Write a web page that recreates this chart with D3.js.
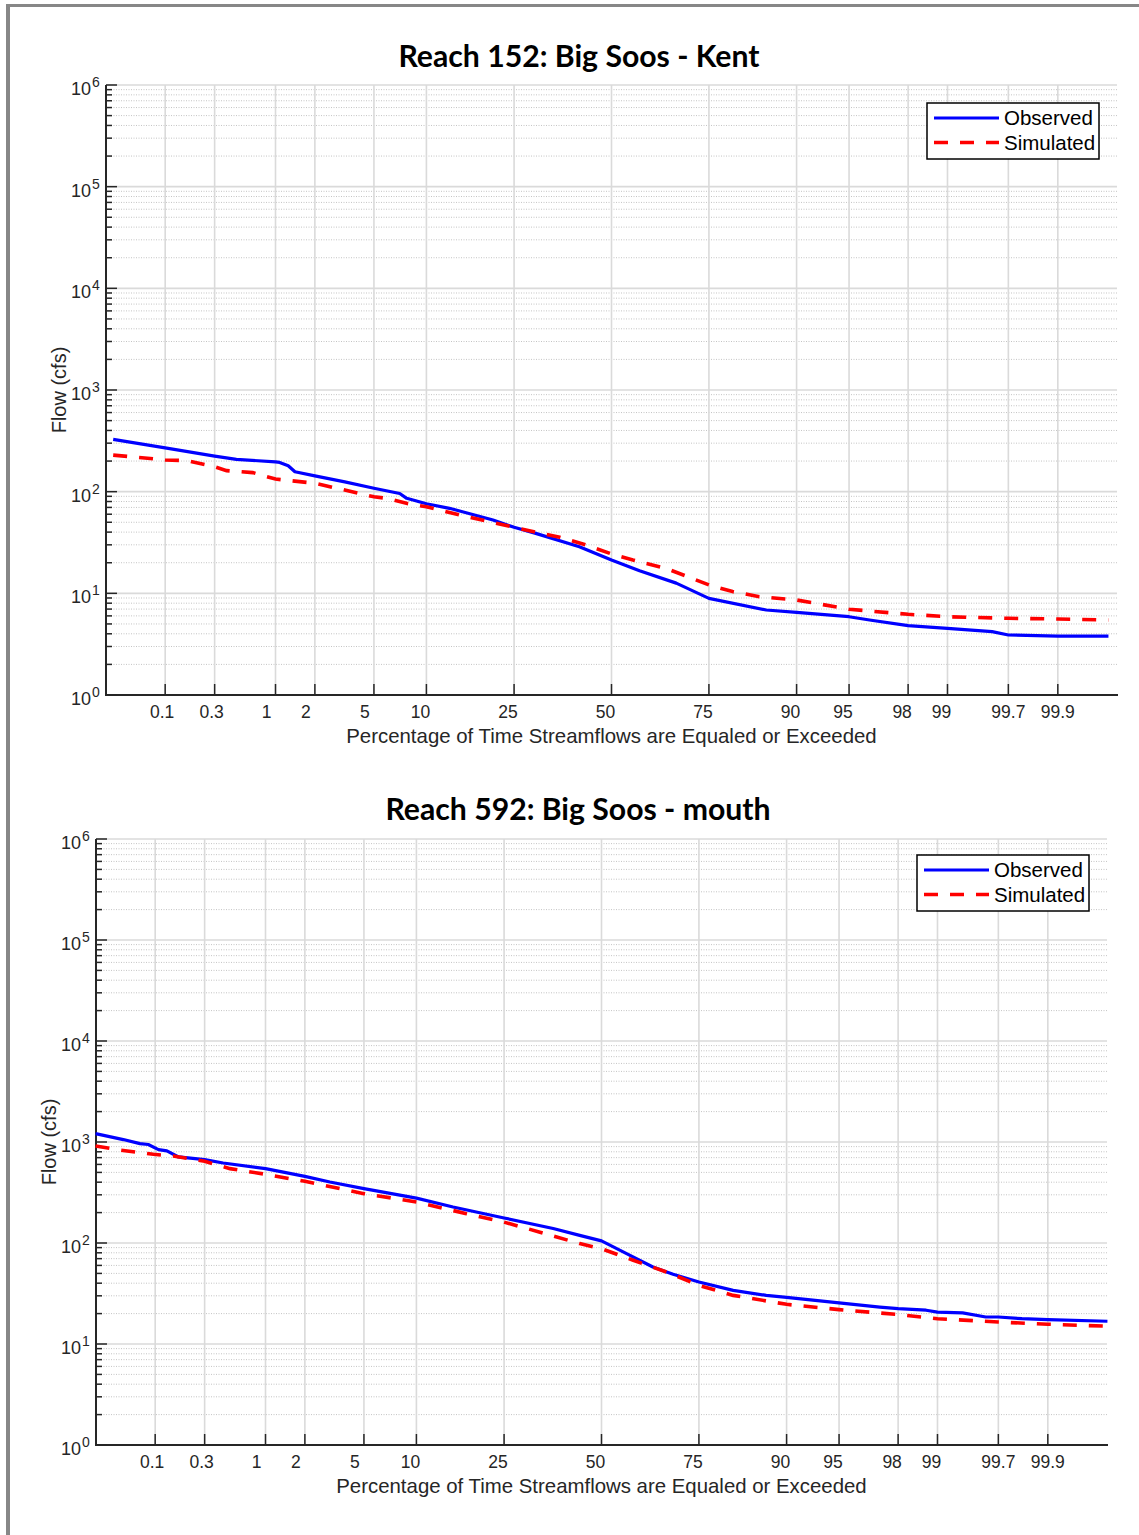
<!DOCTYPE html>
<html>
<head>
<meta charset="utf-8">
<script src="https://cdn.jsdelivr.net/npm/d3@7"></script>
<style>
  html, body { margin: 0; padding: 0; background: #fff; }
  svg { display: block; }
</style>
</head>
<body>
<svg id="chart" width="1139" height="1535"></svg>
<script>
// Flow-duration curves on a normal-probability x axis and a log flow axis.

const xTicks = [0.1, 0.3, 1, 2, 5, 10, 25, 50, 75, 90, 95, 98, 99, 99.7, 99.9];
const xTickLabels = ["0.1", "0.3", "1", "2", "5", "10", "25", "50", "75", "90", "95", "98", "99", "99.7", "99.9"];
const yDecades = [0, 1, 2, 3, 4, 5, 6];
const seriesNames = ["Observed", "Simulated"];

// Reach 152: Big Soos - Kent
const kentObsPct = [0.028, 0.1, 0.3, 0.47, 1, 1.08, 1.26, 1.42, 2, 3.24, 5, 7.13, 7.81, 10, 13.1, 20.6, 25, 30, 41.2, 50, 57.7, 67.3, 75, 85.8, 90, 95, 96.3, 98, 99, 99.58, 99.7, 99.9, 99.971];
const kentObsFlow = [327, 270, 224, 208, 196, 194, 180, 157, 143, 125, 108, 96, 86, 76, 68.6, 52.6, 44.6, 38.9, 28.7, 21.3, 16.7, 12.6, 8.93, 6.86, 6.5, 5.89, 5.47, 4.81, 4.53, 4.2, 3.89, 3.8, 3.8];
const kentSimPct = [0.028, 0.1, 0.164, 0.3, 0.385, 0.65, 1, 2, 2.56, 5, 5.96, 7.78, 10, 14.7, 25, 36, 43, 50, 55.9, 64.7, 75, 79.9, 84.7, 90, 95, 98, 99, 99.7, 99.9, 99.971];
const kentSimFlow = [229, 205, 202, 176, 161, 154, 133, 121, 112, 89, 86, 76.8, 71, 58.9, 44.6, 35.6, 29.9, 24.4, 21.3, 17.6, 12.1, 10.4, 9.27, 8.6, 6.97, 6.22, 5.89, 5.68, 5.59, 5.47];

// Reach 592: Big Soos - mouth
const mouthObsPct = [0.023, 0.0465, 0.0697, 0.085, 0.108, 0.131, 0.17, 0.3, 0.44, 1, 2, 3.0, 5, 10, 15.2, 25, 36.9, 44, 50, 56.9, 63.9, 69, 75, 81.9, 87.3, 90, 95, 97.3, 98, 98.77, 99, 99.38, 99.61, 99.7, 99.82, 99.9, 99.977];
const mouthObsFlow = [1211, 1057, 964, 944, 841, 817, 711, 670, 620, 545, 457, 402, 345, 278, 227, 177, 139, 119, 105, 78.5, 57.8, 49, 41.1, 34.0, 30.3, 29, 25.5, 23.2, 22.4, 21.6, 20.7, 20.3, 18.5, 18.5, 17.8, 17.4, 16.8];
const mouthSimPct = [0.023, 0.0395, 0.096, 0.151, 0.3, 0.505, 1, 2, 5, 10, 17.5, 25, 33.5, 44, 50, 58.7, 67.4, 75, 81.9, 90, 95, 98, 99, 99.7, 99.9, 99.977];
const mouthSimFlow = [913, 841, 755, 728, 644, 545, 479, 408, 308, 255, 195, 161, 128, 98.6, 87.9, 67.4, 51.6, 38.1, 30.3, 24.7, 21.9, 19.6, 17.8, 16.5, 15.7, 15.0];

// Inverse standard normal CDF (Acklam's rational approximation)
function probit(p) {
  const a = [-3.969683028665376e+01, 2.209460984245205e+02, -2.759285104469687e+02, 1.383577518672690e+02, -3.066479806614716e+01, 2.506628277459239e+00];
  const b = [-5.447609879822406e+01, 1.615858368580409e+02, -1.556989798598866e+02, 6.680131188771972e+01, -1.328068155288572e+01];
  const c = [-7.784894002430293e-03, -3.223964580411365e-01, -2.400758277161838e+00, -2.549732539343734e+00, 4.374664141464968e+00, 2.938163982698783e+00];
  const d = [7.784695709041462e-03, 3.224671290700398e-01, 2.445134137142996e+00, 3.754408661907416e+00];
  const pl = 0.02425, ph = 1 - pl;
  let q, r;
  if (p < pl) {
    q = Math.sqrt(-2 * Math.log(p));
    return (((((c[0]*q+c[1])*q+c[2])*q+c[3])*q+c[4])*q+c[5]) / ((((d[0]*q+d[1])*q+d[2])*q+d[3])*q+1);
  } else if (p <= ph) {
    q = p - 0.5; r = q * q;
    return (((((a[0]*r+a[1])*r+a[2])*r+a[3])*r+a[4])*r+a[5])*q / (((((b[0]*r+b[1])*r+b[2])*r+b[3])*r+b[4])*r+1);
  } else {
    q = Math.sqrt(-2 * Math.log(1 - p));
    return -(((((c[0]*q+c[1])*q+c[2])*q+c[3])*q+c[4])*q+c[5]) / ((((d[0]*q+d[1])*q+d[2])*q+d[3])*q+1);
  }
}

const svg = d3.select("#chart");
const FONT = "'Liberation Sans', Arial, sans-serif";

// page frame
svg.append("rect").attr("x", 6).attr("y", 4).attr("width", 1133).attr("height", 3).attr("fill", "#878787");
svg.append("rect").attr("x", 6).attr("y", 4).attr("width", 4).attr("height", 1531).attr("fill", "#878787");

function drawPanel(cfg) {
  const g = svg.append("g");
  const zScale = d3.scaleLinear().domain([-3.5, 3.5]).range([cfg.left, cfg.right]);
  const x = pct => zScale(probit(pct / 100));
  const y = d3.scaleLog().domain([1, 1e6]).range([cfg.bottom, cfg.top]);

  // minor horizontal grid (dotted)
  const minors = [];
  yDecades.slice(0, -1).forEach(e => { for (let k = 2; k <= 9; k++) minors.push(k * Math.pow(10, e)); });
  g.append("g").selectAll("line").data(minors).join("line")
    .attr("x1", cfg.left).attr("x2", cfg.right)
    .attr("y1", d => y(d)).attr("y2", d => y(d))
    .attr("stroke", "#c4c4c4").attr("stroke-width", 1).attr("stroke-dasharray", "1,1.5");

  // major horizontal grid
  g.append("g").selectAll("line").data(yDecades).join("line")
    .attr("x1", cfg.left).attr("x2", cfg.right)
    .attr("y1", d => y(Math.pow(10, d))).attr("y2", d => y(Math.pow(10, d)))
    .attr("stroke", "#dadada").attr("stroke-width", 1.6);

  // vertical grid
  g.append("g").selectAll("line").data(xTicks).join("line")
    .attr("x1", d => x(d)).attr("x2", d => x(d))
    .attr("y1", cfg.top).attr("y2", cfg.bottom)
    .attr("stroke", "#dadada").attr("stroke-width", 1.6);

  // axes lines
  g.append("line").attr("x1", cfg.left).attr("x2", cfg.left).attr("y1", cfg.top).attr("y2", cfg.bottom + 1)
    .attr("stroke", "#262626").attr("stroke-width", 2);
  g.append("line").attr("x1", cfg.left - 1).attr("x2", cfg.right + 1).attr("y1", cfg.bottom).attr("y2", cfg.bottom)
    .attr("stroke", "#262626").attr("stroke-width", 2);

  // y ticks (inward)
  g.append("g").selectAll("line").data(minors).join("line")
    .attr("x1", cfg.left).attr("x2", cfg.left + 6)
    .attr("y1", d => y(d)).attr("y2", d => y(d))
    .attr("stroke", "#262626").attr("stroke-width", 1.5);
  g.append("g").selectAll("line").data(yDecades).join("line")
    .attr("x1", cfg.left).attr("x2", cfg.left + 11)
    .attr("y1", d => y(Math.pow(10, d))).attr("y2", d => y(Math.pow(10, d)))
    .attr("stroke", "#262626").attr("stroke-width", 1.5);

  // x ticks (inward)
  g.append("g").selectAll("line").data(xTicks).join("line")
    .attr("x1", d => x(d)).attr("x2", d => x(d))
    .attr("y1", cfg.bottom).attr("y2", cfg.bottom - 11)
    .attr("stroke", "#262626").attr("stroke-width", 1.5);

  // y tick labels: 10^n
  g.append("g").selectAll("text").data(yDecades).join("text")
    .attr("x", cfg.left - 15).attr("y", d => y(Math.pow(10, d)) + 10)
    .attr("text-anchor", "end")
    .attr("font-family", FONT).attr("font-size", 18).attr("fill", "#262626")
    .text("10");
  g.append("g").selectAll("text").data(yDecades).join("text")
    .attr("x", cfg.left - 14).attr("y", d => y(Math.pow(10, d)) + 2)
    .attr("text-anchor", "start")
    .attr("font-family", FONT).attr("font-size", 14).attr("fill", "#262626")
    .text(d => String(d));

  // x tick labels (labels are padded to a common width, so short ones sit left of the tick)
  g.append("g").selectAll("text").data(xTicks).join("text")
    .attr("x", (d, i) => x(d) - (4 - xTickLabels[i].length) * 3).attr("y", cfg.bottom + 23)
    .attr("text-anchor", "middle")
    .attr("font-family", FONT).attr("font-size", 17.5).attr("fill", "#262626")
    .text((d, i) => xTickLabels[i]);

  // axis titles
  g.append("text")
    .attr("x", (cfg.left + cfg.right) / 2).attr("y", cfg.bottom + 48)
    .attr("text-anchor", "middle")
    .attr("font-family", FONT).attr("font-size", 20.4).attr("fill", "#262626")
    .text("Percentage of Time Streamflows are Equaled or Exceeded");
  g.append("text")
    .attr("transform", `translate(${cfg.ylabelX},${(cfg.top + cfg.bottom) / 2}) rotate(-90)`)
    .attr("text-anchor", "middle")
    .attr("font-family", FONT).attr("font-size", 20).attr("fill", "#262626")
    .text("Flow (cfs)");

  // chart title
  g.append("text")
    .attr("x", cfg.titleX).attr("y", cfg.titleY)
    .attr("text-anchor", "middle")
    .attr("font-family", "Lato, 'Open Sans', sans-serif").attr("font-weight", 700).attr("font-size", 30.2)
    .attr("fill", "#000")
    .text(cfg.title);

  // curves
  const line = d3.line().x(d => x(d[0])).y(d => y(d[1]));
  const obs = cfg.obsPct.map((p, i) => [p, cfg.obsFlow[i]]);
  const sim = cfg.simPct.map((p, i) => [p, cfg.simFlow[i]]);
  g.append("path").datum(obs).attr("d", line)
    .attr("fill", "none").attr("stroke", "#0000ff").attr("stroke-width", 3.2)
    .attr("stroke-linejoin", "round");
  g.append("path").datum(sim).attr("d", line)
    .attr("fill", "none").attr("stroke", "#ff0000").attr("stroke-width", 3.6)
    .attr("stroke-dasharray", "14,12");

  // legend
  const lg = g.append("g").attr("transform", `translate(${cfg.legendX},${cfg.legendY})`);
  lg.append("rect").attr("width", 172).attr("height", 56)
    .attr("fill", "#fff").attr("stroke", "#000").attr("stroke-width", 1.5);
  const styles = [
    { color: "#0000ff", dash: null, w: 3.2 },
    { color: "#ff0000", dash: "14,12", w: 3.6 }
  ];
  seriesNames.forEach((name, i) => {
    const yy = 15 + i * 24.5;
    lg.append("line").attr("x1", 7).attr("x2", 72).attr("y1", yy).attr("y2", yy)
      .attr("stroke", styles[i].color).attr("stroke-width", styles[i].w)
      .attr("stroke-dasharray", styles[i].dash);
    lg.append("text").attr("x", 77).attr("y", yy + 7)
      .attr("font-family", FONT).attr("font-size", 20.5).attr("fill", "#000")
      .text(name);
  });
}

drawPanel({
  title: "Reach 152: Big Soos - Kent", titleX: 579, titleY: 67,
  left: 106, right: 1117, top: 85, bottom: 695, ylabelX: 66,
  legendX: 927, legendY: 103,
  obsPct: kentObsPct, obsFlow: kentObsFlow, simPct: kentSimPct, simFlow: kentSimFlow
});

drawPanel({
  title: "Reach 592: Big Soos - mouth", titleX: 578, titleY: 820,
  left: 96, right: 1107, top: 839, bottom: 1445, ylabelX: 56,
  legendX: 917, legendY: 855,
  obsPct: mouthObsPct, obsFlow: mouthObsFlow, simPct: mouthSimPct, simFlow: mouthSimFlow
});
</script>
</body>
</html>
